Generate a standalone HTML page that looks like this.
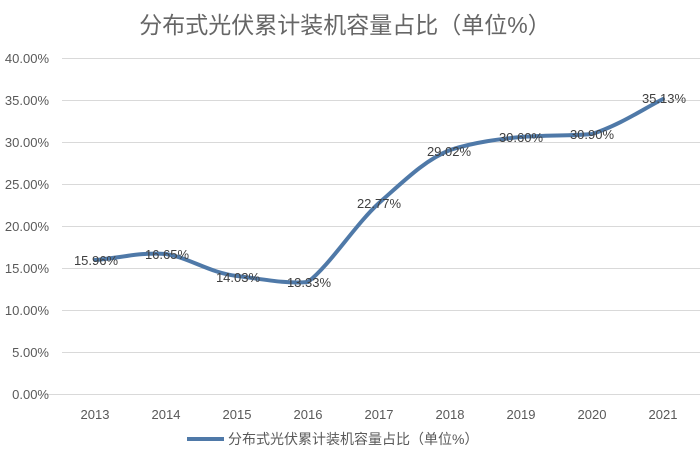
<!DOCTYPE html>
<html><head><meta charset="utf-8"><style>
body{margin:0;background:#fff;}
svg text{font-family:"Liberation Sans","Noto Sans CJK SC",sans-serif;}
</style></head><body>
<svg width="700" height="463" viewBox="0 0 700 463" xmlns="http://www.w3.org/2000/svg">
<rect width="700" height="463" fill="#fff"/>
<text x="345" y="33" text-anchor="middle" font-size="23" fill="#666">分布式光伏累计装机容量占比（单位%）</text>
<g stroke="#d9d9d9" stroke-width="1">
<line x1="62" x2="700" y1="58.5" y2="58.5"/>
<line x1="62" x2="700" y1="100.5" y2="100.5"/>
<line x1="62" x2="700" y1="142.5" y2="142.5"/>
<line x1="62" x2="700" y1="184.5" y2="184.5"/>
<line x1="62" x2="700" y1="226.5" y2="226.5"/>
<line x1="62" x2="700" y1="268.5" y2="268.5"/>
<line x1="62" x2="700" y1="310.5" y2="310.5"/>
<line x1="62" x2="700" y1="352.5" y2="352.5"/>
<line x1="45" x2="700" y1="394.5" y2="394.5"/>
</g>
<g font-size="13" fill="#595959" text-anchor="end">
<text x="49" y="63">40.00%</text>
<text x="49" y="105">35.00%</text>
<text x="49" y="147">30.00%</text>
<text x="49" y="189">25.00%</text>
<text x="49" y="231">20.00%</text>
<text x="49" y="273">15.00%</text>
<text x="49" y="315">10.00%</text>
<text x="49" y="357">5.00%</text>
<text x="49" y="399">0.00%</text>
</g>
<g font-size="13" fill="#595959" text-anchor="middle">
<text x="95" y="419">2013</text><text x="166" y="419">2014</text><text x="237" y="419">2015</text>
<text x="308" y="419">2016</text><text x="379" y="419">2017</text><text x="450" y="419">2018</text>
<text x="521" y="419">2019</text><text x="592" y="419">2020</text><text x="663" y="419">2021</text>
</g>
<path d="M95,260 C120,258 140,252 166,254 C190,258 210,273 237,276 C262,279 285,284 308,282 C330,265 355,225 379,203 C405,180 425,160 450,150 C475,142 500,139 521,137 C545,135 570,136 592,134 C620,125 645,108 663,99" fill="none" stroke="#4f79a8" stroke-width="4" stroke-linecap="round"/>
<g font-size="13" fill="#404040" text-anchor="middle">
<text x="96" y="265">15.96%</text>
<text x="167" y="259">16.65%</text>
<text x="238" y="282">14.03%</text>
<text x="309" y="287">13.33%</text>
<text x="379" y="208">22.77%</text>
<text x="449" y="156">29.02%</text>
<text x="521" y="142">30.60%</text>
<text x="592" y="139">30.90%</text>
<text x="664" y="103">35.13%</text>
</g>
<line x1="187" x2="224" y1="439" y2="439" stroke="#4f79a8" stroke-width="4"/>
<text x="228" y="444" font-size="14" fill="#595959">分布式光伏累计装机容量占比（单位%）</text>
</svg>
</body></html>
